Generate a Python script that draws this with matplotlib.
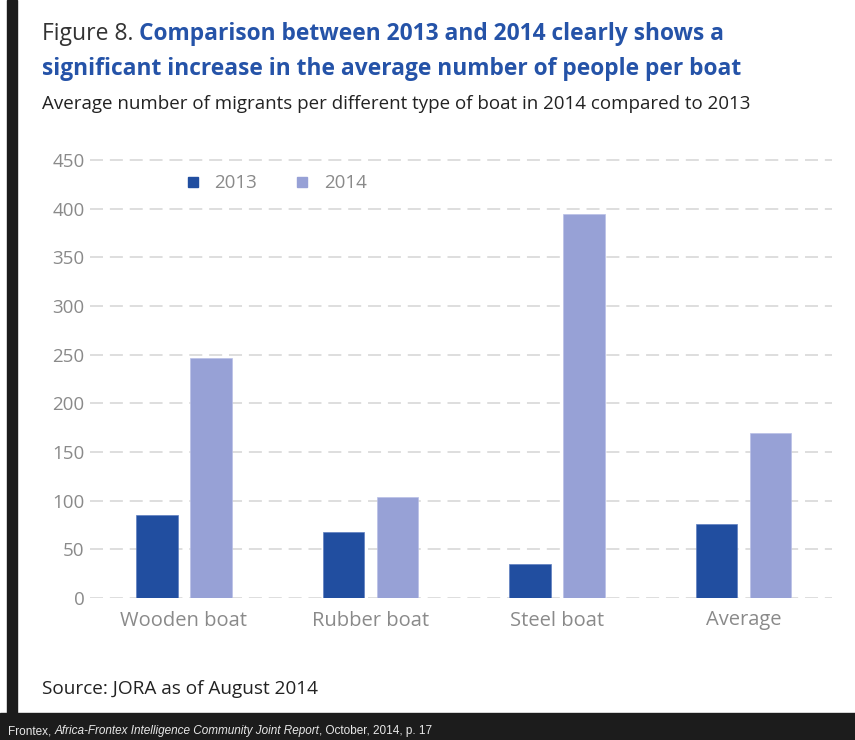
import matplotlib.pyplot as plt
from matplotlib.lines import Line2D
from matplotlib.patches import Rectangle

# average number of migrants per boat
boat_types = ['Wooden boat', 'Rubber boat', 'Steel boat', 'Average']
people_2013 = [85, 68, 35, 76]
people_2014 = [247, 104, 394, 170]
y_ticks = [0, 50, 100, 150, 200, 250, 300, 350, 400, 450]

dark_blue = '#214ea0'
light_blue = '#97a1d6'
title_blue = '#2553a8'
grey_text = '#8a8a8a'

plt.rcParams['font.family'] = ['Open Sans', 'DejaVu Sans']

fig = plt.figure(figsize=(8.55, 7.4), dpi=100)
ax = fig.add_axes([90 / 855, 1 - 598 / 740, 742 / 855, 440 / 740])

x = list(range(len(boat_types)))
off = 0.145
w = 0.222
ax.bar([i - off for i in x], people_2013, width=w, color=dark_blue,
       edgecolor='#5f7fc0', linewidth=0.5, zorder=3)
ax.bar([i + off for i in x], people_2014, width=w, color=light_blue,
       edgecolor='#b9c0e6', linewidth=0.5, zorder=3)

ax.set_xlim(-0.504, 3.475)
ax.set_ylim(0, 452)
ax.set_yticks(y_ticks)
ax.set_xticks(x)
ax.set_xticklabels(boat_types, fontsize=14.5, color=grey_text)
ax.tick_params(axis='y', length=0, pad=4, labelsize=13.5, labelcolor=grey_text)
ax.tick_params(axis='x', length=0, pad=9)
for s in ax.spines.values():
    s.set_visible(False)
ax.grid(axis='y', color='#d4d4d4', linewidth=1.1, linestyle=(0, (8.5, 4.5)), zorder=0)

# legend with small square markers
handles = [Line2D([], [], marker='s', linestyle='none', markersize=7, color=dark_blue),
           Line2D([], [], marker='s', linestyle='none', markersize=7, color=light_blue)]
leg = ax.legend(handles, ['2013', '2014'], ncol=2, frameon=False, loc='center left',
                bbox_to_anchor=(0.106, 0.943), handlelength=0.75, handletextpad=0.8,
                columnspacing=2.0, fontsize=13.5)
for t in leg.get_texts():
    t.set_color(grey_text)

# title lines
t1 = fig.text(42 / 855, 1 - 34 / 740, 'Figure 8. ', fontsize=16.5, color='#333333', va='center')
fig.canvas.draw()
ax.annotate('Comparison between 2013 and 2014 clearly shows a', xy=(1, 0), xycoords=t1,
            va='bottom', ha='left', fontsize=16.4, color=title_blue, fontweight='bold',
            annotation_clip=False)
fig.text(42 / 855, 1 - 69 / 740, 'significant increase in the average number of people per boat',
         fontsize=16.4, color=title_blue, fontweight='bold', va='center')
fig.text(42 / 855, 1 - 104 / 740,
         'Average number of migrants per different type of boat in 2014 compared to 2013',
         fontsize=13.5, color='#222222', va='center')
fig.text(42 / 855, 1 - 689 / 740, 'Source: JORA as of August 2014', fontsize=13.7,
         color='#222222', va='center')

# dark frame on the left and along the bottom
fig.patches.append(Rectangle((7 / 855, 0), 10 / 855, 1, transform=fig.transFigure,
                             color='#1c1c1c', zorder=-1))
fig.patches.append(Rectangle((0, 0), 1, (740 - 713) / 740, transform=fig.transFigure,
                             color='#1c1c1c', zorder=-1))

c1 = fig.text(8 / 855, 1 - 731 / 740, 'Frontex, ', fontsize=8.5, color='#e8e8e8',
              va='center', family='Liberation Sans')
fig.canvas.draw()
c2 = ax.annotate('Africa-Frontex Intelligence Community Joint Report', xy=(1, 0), xycoords=c1,
                 va='bottom', fontsize=8.5, color='#e8e8e8', style='italic',
                 family='Liberation Sans', annotation_clip=False)
fig.canvas.draw()
ax.annotate(', October, 2014, p. 17', xy=(1, 0), xycoords=c2, va='bottom', fontsize=8.5,
            color='#e8e8e8', family='Liberation Sans', annotation_clip=False)

fig.savefig('out.png', dpi=100)
